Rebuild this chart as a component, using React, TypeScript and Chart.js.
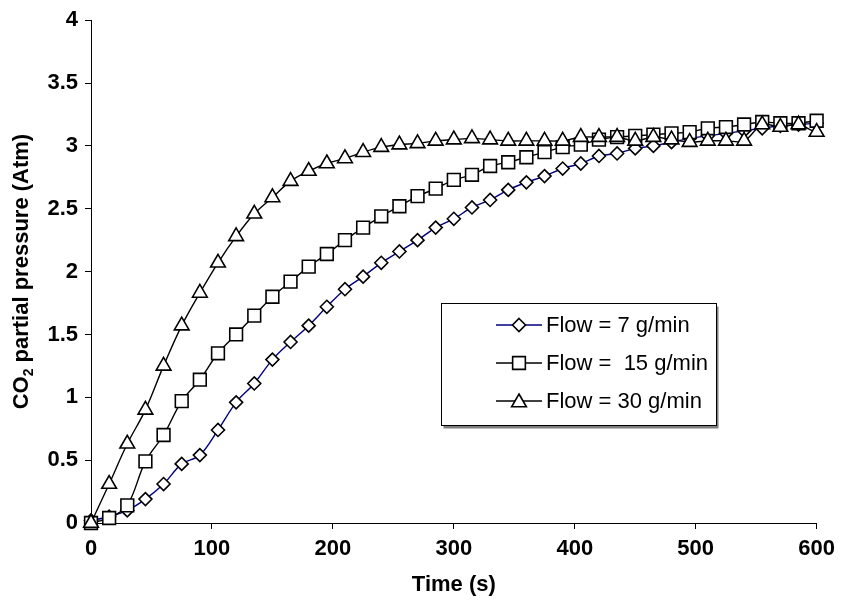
import React, { useEffect, useRef } from "react";
import { Chart, registerables } from "chart.js";

Chart.register(...registerables);

// ---- data (time in s, CO2 partial pressure in Atm) ----
const times = [
  0, 15, 30, 45, 60, 75, 90, 105, 120, 135, 150, 165, 180, 195, 210, 225, 240,
  255, 270, 285, 300, 315, 330, 345, 360, 375, 390, 405, 420, 435, 450, 465, 480,
  495, 510, 525, 540, 555, 570, 585, 600, 615,
];

const flow7 = [
  0.02, 0.05, 0.1, 0.19, 0.31, 0.47, 0.54, 0.74, 0.96, 1.11, 1.3, 1.44, 1.57,
  1.72, 1.86, 1.96, 2.07, 2.16, 2.25, 2.35, 2.42, 2.51, 2.57, 2.65, 2.71, 2.76,
  2.82, 2.86, 2.92, 2.94, 2.98, 3.0, 3.03, 3.06, 3.08, 3.1, 3.12, 3.14, 3.16,
  3.17, 3.18, 3.19,
];

const flow15 = [
  0, 0.04, 0.14, 0.49, 0.7, 0.97, 1.14, 1.35, 1.5, 1.65, 1.8, 1.92, 2.04, 2.14,
  2.25, 2.35, 2.44, 2.52, 2.6, 2.66, 2.73, 2.77, 2.84, 2.87, 2.91, 2.95, 2.99,
  3.01, 3.05, 3.07, 3.08, 3.09, 3.1, 3.11, 3.14, 3.15, 3.17, 3.19, 3.18, 3.18,
  3.2, 3.2,
];

const flow30 = [
  0, 0.31, 0.63, 0.9, 1.25, 1.57, 1.83, 2.07, 2.28, 2.46, 2.59, 2.72, 2.8, 2.86,
  2.9, 2.95, 2.99, 3.01, 3.02, 3.04, 3.05, 3.06, 3.05, 3.04, 3.04, 3.04, 3.04,
  3.07, 3.07, 3.07, 3.04, 3.07, 3.05, 3.03, 3.04, 3.04, 3.04, 3.17, 3.15, 3.17,
  3.11, 3.12,
];

const xTickValues = [0, 100, 200, 300, 400, 500, 600];
const yTickValues = [0, 0.5, 1, 1.5, 2, 2.5, 3, 3.5, 4];

const seriesLabels = ["Flow = 7 g/min", "Flow =  15 g/min", "Flow = 30 g/min"];
const xTitle = "Time (s)";
const yTitleParts = ["CO", "2", " partial pressure (Atm)"];

const FONT = "'Liberation Sans', Arial, Helvetica, sans-serif";
const NAVY = "#000080";

function toPoints(values: number[]) {
  return values.map((v, i) => ({ x: times[i], y: v }));
}

function radii(r: number) {
  return times.map((t) => (t > 600 ? 0 : r));
}

function drawMarker(
  ctx: CanvasRenderingContext2D,
  kind: string,
  x: number,
  y: number,
  r: number
) {
  ctx.beginPath();
  if (kind === "diamond") {
    ctx.moveTo(x, y - r);
    ctx.lineTo(x + r, y);
    ctx.lineTo(x, y + r);
    ctx.lineTo(x - r, y);
    ctx.closePath();
  } else if (kind === "square") {
    const s = r * Math.SQRT1_2;
    ctx.rect(x - s, y - s, 2 * s, 2 * s);
  } else {
    for (let k = 0; k < 3; k++) {
      const a = (k * 2 * Math.PI) / 3;
      const px = x + Math.sin(a) * r;
      const py = y - Math.cos(a) * r;
      if (k === 0) ctx.moveTo(px, py);
      else ctx.lineTo(px, py);
    }
    ctx.closePath();
  }
  ctx.fillStyle = "#fff";
  ctx.fill();
  ctx.lineWidth = 1.6;
  ctx.strokeStyle = "#000";
  ctx.stroke();
}

const overlayPlugin = {
  id: "overlay",
  afterDraw(chart: any) {
    const ctx: CanvasRenderingContext2D = chart.ctx;
    const area = chart.chartArea;
    ctx.save();
    ctx.fillStyle = "#000";

    // x-axis title
    ctx.font = `bold 22px ${FONT}`;
    ctx.textAlign = "center";
    ctx.textBaseline = "middle";
    ctx.fillText(xTitle, (area.left + area.right) / 2, 585);

    // y-axis title with subscript
    const bigFont = `bold 22px ${FONT}`;
    const smallFont = `bold 14px ${FONT}`;
    ctx.font = bigFont;
    const w0 = ctx.measureText(yTitleParts[0]).width;
    const w2 = ctx.measureText(yTitleParts[2]).width;
    ctx.font = smallFont;
    const w1 = ctx.measureText(yTitleParts[1]).width;
    const total = w0 + w1 + w2;
    ctx.translate(22, (area.top + area.bottom) / 2);
    ctx.rotate(-Math.PI / 2);
    ctx.textAlign = "left";
    ctx.textBaseline = "middle";
    let cx = -total / 2;
    ctx.font = bigFont;
    ctx.fillText(yTitleParts[0], cx, 0);
    cx += w0;
    ctx.font = smallFont;
    ctx.fillText(yTitleParts[1], cx, 7);
    cx += w1;
    ctx.font = bigFont;
    ctx.fillText(yTitleParts[2], cx, 0);
    ctx.restore();

    // legend box
    ctx.save();
    const bx = 441.5;
    const by = 303.5;
    const bw = 275;
    const bh = 122;
    ctx.fillStyle = "#7f7f7f";
    ctx.fillRect(bx + 2, by + 3, bw, bh);
    ctx.fillStyle = "#fff";
    ctx.fillRect(bx, by, bw, bh);
    ctx.strokeStyle = "#000";
    ctx.lineWidth = 1;
    ctx.strokeRect(bx, by, bw, bh);

    const rows = [325, 363, 401];
    const kinds = ["diamond", "square", "triangle"];
    const colors = [NAVY, "#000", "#000"];
    const rs = [6.5, 9, 8.5];
    ctx.font = `22px ${FONT}`;
    ctx.textAlign = "left";
    ctx.textBaseline = "middle";
    rows.forEach((ry, i) => {
      ctx.beginPath();
      ctx.moveTo(496, ry);
      ctx.lineTo(542, ry);
      ctx.strokeStyle = colors[i];
      ctx.lineWidth = 1.4;
      ctx.stroke();
      drawMarker(ctx, kinds[i], 519, kinds[i] === "triangle" ? ry + 1.5 : ry, rs[i]);
      ctx.fillStyle = "#000";
      ctx.fillText(seriesLabels[i], 546, ry + 1);
    });
    ctx.restore();
  },
};

export default function App() {
  const canvasRef = useRef<HTMLCanvasElement | null>(null);

  useEffect(() => {
    document.body.style.margin = "0";
    const canvas = canvasRef.current;
    if (!canvas) return;

    const common = {
      fill: false,
      tension: 0.35,
      borderWidth: 1.4,
      pointBackgroundColor: "#ffffff",
      pointBorderColor: "#000000",
      pointBorderWidth: 1.6,
      clip: { left: 14, top: 14, right: 24, bottom: 14 },
    };

    const chart = new Chart(canvas, {
      type: "line",
      data: {
        datasets: [
          {
            ...common,
            label: seriesLabels[2],
            data: toPoints(flow30),
            borderColor: "#000000",
            pointStyle: "triangle",
            pointRadius: radii(8.5),
          },
          {
            ...common,
            label: seriesLabels[1],
            data: toPoints(flow15),
            borderColor: "#000000",
            pointStyle: "rect",
            pointRadius: radii(9),
          },
          {
            ...common,
            label: seriesLabels[0],
            data: toPoints(flow7),
            borderColor: NAVY,
            pointStyle: "rectRot",
            pointRadius: radii(6.5),
          },
        ],
      } as any,
      options: {
        responsive: false,
        animation: false,
        events: [],
        layout: { padding: { top: 18, right: 20, left: 0, bottom: 0 } },
        plugins: {
          legend: { display: false },
          tooltip: { enabled: false },
          title: { display: false },
        },
        scales: {
          x: {
            type: "linear",
            min: 0,
            max: 600,
            afterFit: (s: any) => {
              s.height = 79;
            },
            afterBuildTicks: (s: any) => {
              s.ticks = xTickValues.map((v) => ({ value: v }));
            },
            ticks: {
              font: { family: FONT, size: 22, weight: "bold" },
              color: "#000",
              padding: 7,
              maxRotation: 0,
              callback: (v: any) => String(v),
            },
            grid: {
              drawOnChartArea: false,
              drawTicks: true,
              tickLength: 6,
              color: "#000",
            },
            border: { display: true, color: "#000", width: 1 },
          },
          y: {
            type: "linear",
            min: 0,
            max: 4,
            afterFit: (s: any) => {
              s.width = 91;
            },
            afterBuildTicks: (s: any) => {
              s.ticks = yTickValues.map((v) => ({ value: v }));
            },
            ticks: {
              font: { family: FONT, size: 22, weight: "bold" },
              color: "#000",
              padding: 7,
              callback: (v: any) => String(v),
            },
            grid: {
              drawOnChartArea: false,
              drawTicks: true,
              tickLength: 6,
              color: "#000",
            },
            border: { display: true, color: "#000", width: 1 },
          },
        },
      } as any,
      plugins: [overlayPlugin],
    });

    return () => {
      chart.destroy();
    };
  }, []);

  return (
    <div style={{ width: 842, height: 602, background: "#fff" }}>
      <canvas ref={canvasRef} width={842} height={602} style={{ display: "block" }} />
    </div>
  );
}
